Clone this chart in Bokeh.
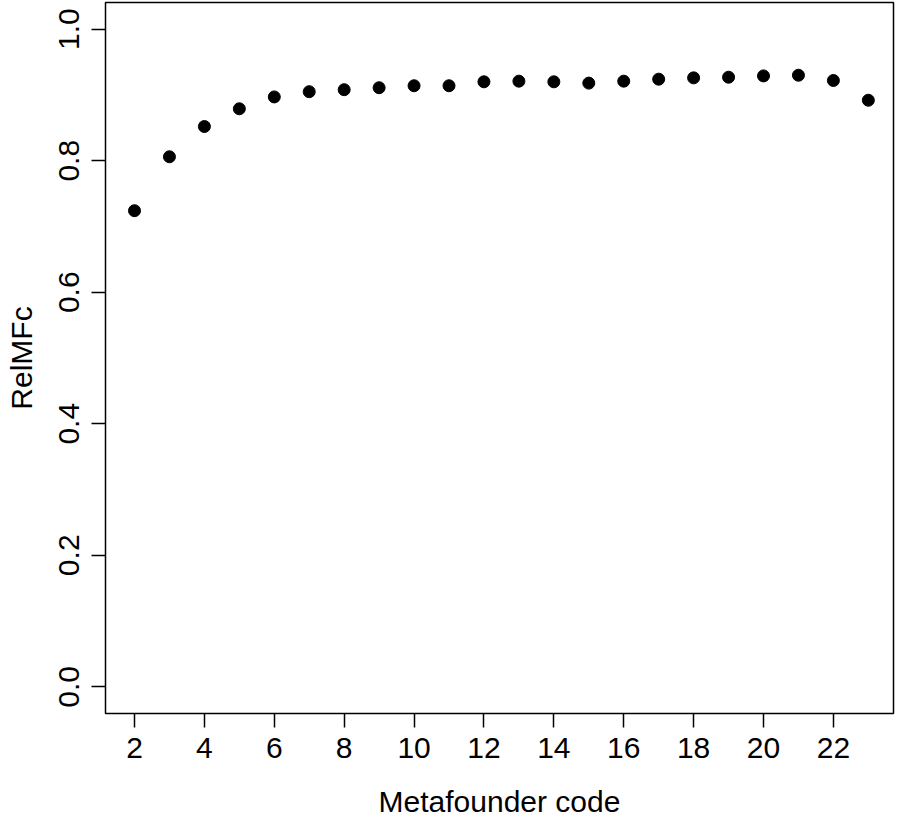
from bokeh.plotting import figure
from bokeh.models import Range1d, FixedTicker, CustomJSTickFormatter
from bokeh.embed import file_html
from bokeh.resources import INLINE

codes = [2, 3, 4, 5, 6, 7, 8, 9, 10, 11, 12, 13, 14, 15, 16, 17, 18, 19, 20, 21, 22, 23]
relmfc = [0.724, 0.806, 0.852, 0.879, 0.897, 0.905, 0.908, 0.911, 0.914, 0.914, 0.920,
          0.921, 0.920, 0.918, 0.921, 0.924, 0.926, 0.927, 0.929, 0.930, 0.922, 0.892]
x_ticks = [2, 4, 6, 8, 10, 12, 14, 16, 18, 20, 22]
y_ticks = [0.0, 0.2, 0.4, 0.6, 0.8, 1.0]
x_label = "Metafounder code"
y_label = "RelMFc"

FONT = "Liberation Sans"
FS = "30px"

p = figure(width=898, height=828, output_backend="svg", toolbar_location=None,
           x_range=Range1d(1.170, 23.72), y_range=Range1d(-0.0406, 1.0406),
           min_border_left=105, min_border_right=5, min_border_top=2, min_border_bottom=115)

p.scatter(codes, relmfc, size=12, color="black", line_color="black")

p.xgrid.visible = False
p.ygrid.visible = False
p.background_fill_color = "white"
p.border_fill_color = "white"
p.outline_line_color = "black"
p.outline_line_width = 1.5
p.outline_line_alpha = 1.0

p.xaxis.ticker = FixedTicker(ticks=x_ticks)
p.yaxis.ticker = FixedTicker(ticks=y_ticks)
p.yaxis.formatter = CustomJSTickFormatter(code="return tick.toFixed(1);")

for ax in (p.xaxis[0], p.yaxis[0]):
    ax.axis_line_color = None
    ax.major_tick_line_color = "black"
    ax.major_tick_line_width = 1.5
    ax.major_tick_out = 14
    ax.major_tick_in = 0
    ax.minor_tick_line_color = None
    ax.major_label_text_font = FONT
    ax.major_label_text_font_size = FS
    ax.major_label_text_color = "black"
    ax.axis_label_text_font = FONT
    ax.axis_label_text_font_size = FS
    ax.axis_label_text_font_style = "normal"
    ax.axis_label_text_color = "black"

p.xaxis.axis_label = x_label
p.yaxis.axis_label = y_label
p.xaxis.major_label_standoff = 10
p.xaxis.axis_label_standoff = 24
p.yaxis.major_label_orientation = "vertical"
p.yaxis.major_label_standoff = 12
p.yaxis.axis_label_standoff = 19

open("out.html", "w").write(file_html(p, INLINE))
